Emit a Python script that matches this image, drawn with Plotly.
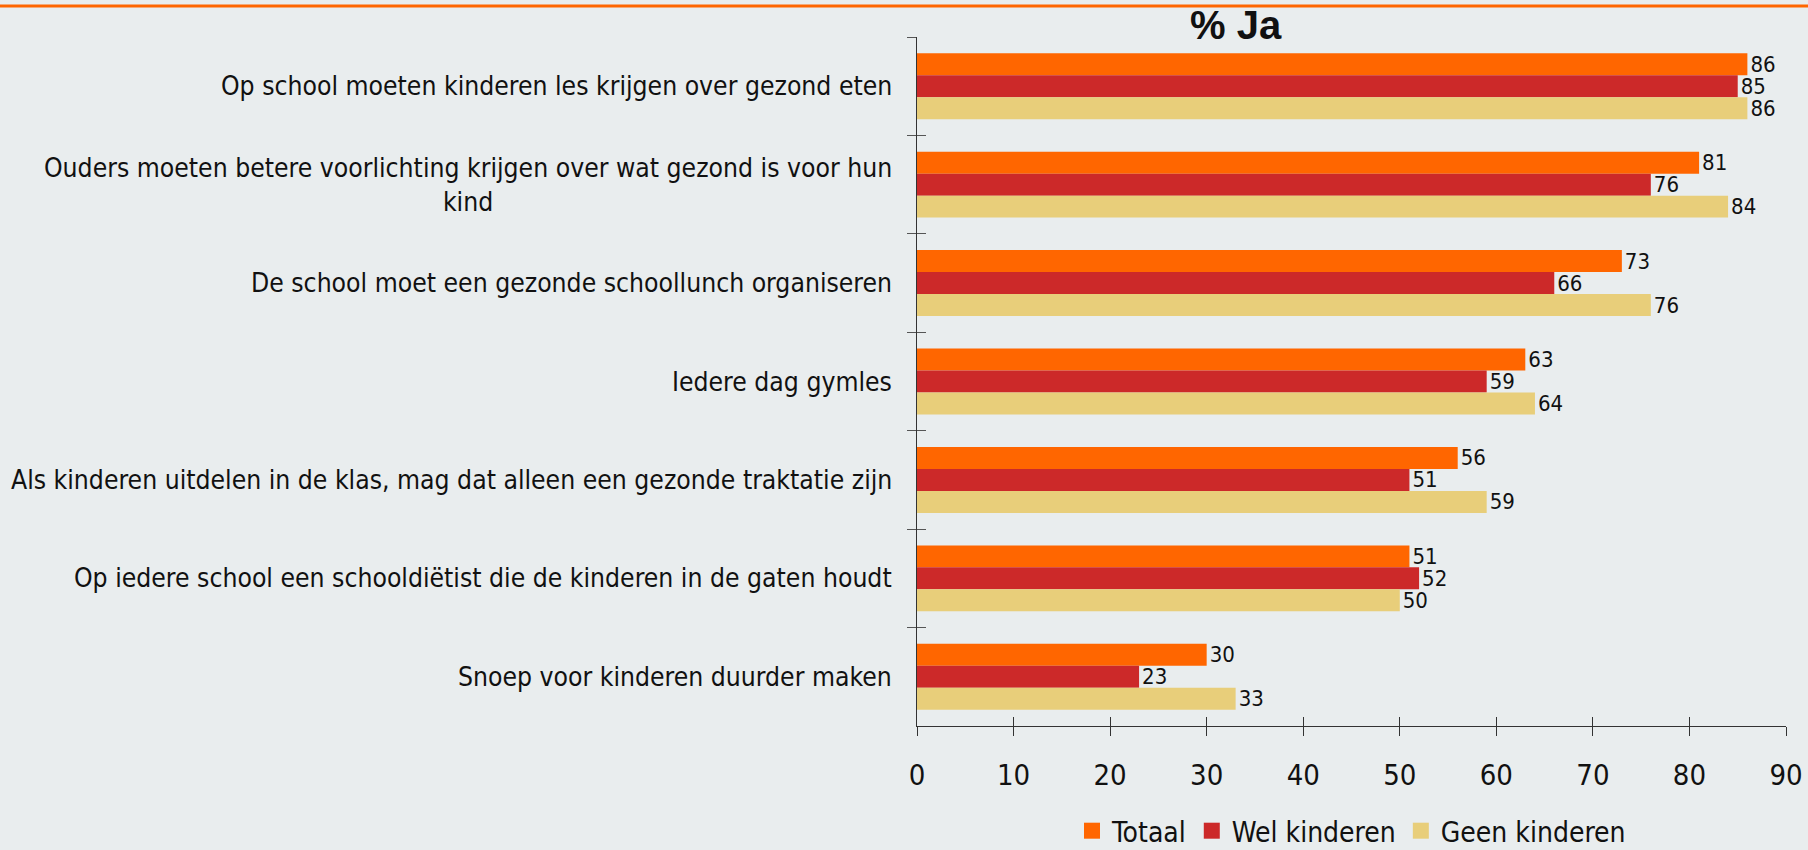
import plotly.graph_objects as go

categories = [
    "Op school moeten kinderen les krijgen over gezond eten",
    "Ouders moeten betere voorlichting krijgen over wat gezond is voor hun<br>kind",
    "De school moet een gezonde schoollunch organiseren",
    "Iedere dag gymles",
    "Als kinderen uitdelen in de klas, mag dat alleen een gezonde traktatie zijn",
    "Op iedere school een schooldiëtist die de kinderen in de gaten houdt",
    "Snoep voor kinderen duurder maken",
]
series_names = ["Totaal", "Wel kinderen", "Geen kinderen"]
totaal = [86, 81, 73, 63, 56, 51, 30]
wel_kinderen = [85, 76, 66, 59, 51, 52, 23]
geen_kinderen = [86, 84, 76, 64, 59, 50, 33]
x_ticks = [0, 10, 20, 30, 40, 50, 60, 70, 80, 90]
title_text = "% Ja"

colors = ["#FF6600", "#CC2929", "#E8CE7A"]
BG = "#E9EDEE"
FONT = "Liberation Sans Narrow, Arial Narrow, DejaVu Sans Condensed, sans-serif"

fig = go.Figure()
for name, vals, col in zip(series_names, [totaal, wel_kinderen, geen_kinderen], colors):
    fig.add_trace(go.Bar(
        y=categories, x=vals, name=name, orientation="h",
        marker=dict(color=col, line=dict(width=0)),
        text=[str(v) for v in vals], textposition="outside",
        textfont=dict(size=22, color="#111", family=FONT),
        constraintext="none", cliponaxis=False, showlegend=False,
    ))
    # legend entry with a larger square swatch
    fig.add_trace(go.Scatter(
        x=[None], y=[None], mode="markers", name=name,
        marker=dict(symbol="square", size=18, color=col),
        showlegend=True, hoverinfo="skip",
    ))

W, H = 1808, 850
L, R, T, B = 917, 22, 37, 124
pw, ph = W - L - R, H - T - B

fig.update_layout(
    width=W, height=H,
    margin=dict(l=L, r=R, t=T, b=B, pad=0, autoexpand=False),
    paper_bgcolor=BG, plot_bgcolor=BG,
    barmode="group", bargap=0.33, bargroupgap=0,
    font=dict(family=FONT, color="#111"),
    showlegend=True,
    legend=dict(orientation="h", x=0.5, xanchor="center",
                yref="container", y=(H - 831) / H, yanchor="middle",
                font=dict(size=28, family=FONT), bgcolor="rgba(0,0,0,0)",
                itemwidth=30, tracegroupgap=0, itemsizing="trace"),
    xaxis=dict(range=[0, 90], tickvals=x_ticks, ticktext=[str(v) for v in x_ticks],
               showgrid=False, zeroline=False, showline=True, linecolor="#333", linewidth=1,
               ticks="outside", ticklen=9, tickcolor="#333", tickwidth=1,
               tickfont=dict(size=29, family=FONT), ticklabelstandoff=14),
    xaxis2=dict(range=[0, 90], tickvals=x_ticks, overlaying="x", anchor="y",
                showgrid=False, zeroline=False, showline=False, showticklabels=False,
                ticks="inside", ticklen=9, tickcolor="#333", tickwidth=1),
    yaxis=dict(autorange="reversed", showgrid=False, zeroline=False,
               showline=True, linecolor="#333", linewidth=1,
               ticks="outside", ticklen=9, tickcolor="#555", tickwidth=1,
               tickson="boundaries", showticklabels=False),
    yaxis2=dict(range=[-0.5, len(categories) - 0.5], overlaying="y", anchor="x",
                tickvals=[i - 0.5 for i in range(len(categories) + 1)],
                showgrid=False, zeroline=False, showline=False, showticklabels=False,
                ticks="inside", ticklen=9, tickcolor="#555", tickwidth=1),
)

# invisible helper trace to activate overlay axes
fig.add_trace(go.Scatter(x=[0], y=[0], xaxis="x2", yaxis="y2", mode="markers",
                         marker=dict(opacity=0), showlegend=False, hoverinfo="skip"))

# category labels (right-aligned block, centered lines)
for c in categories:
    fig.add_annotation(x=0, xref="paper", y=c, yref="y", xanchor="right", xshift=-23,
                       yanchor="middle", align="center", showarrow=False, text=c,
                       font=dict(size=26.3, family=FONT, color="#111"))

# title
fig.add_annotation(x=(1236 - L) / pw, xref="paper", y=(H - B - 25) / ph, yref="paper",
                   xanchor="center", yanchor="middle", showarrow=False,
                   text="<b>" + title_text + "</b>",
                   font=dict(size=40, family="Liberation Sans, Arial, sans-serif", color="#111"))

# orange rule at top
fig.add_shape(type="line", xref="paper", yref="paper",
              x0=-L / pw, x1=1 + R / pw, y0=(H - B - 6) / ph, y1=(H - B - 6) / ph,
              line=dict(color="#FF6600", width=3))

fig.write_html("out.html", config={"displayModeBar": False},
               post_script="document.body.style.margin='0';document.body.style.overflow='hidden';")
